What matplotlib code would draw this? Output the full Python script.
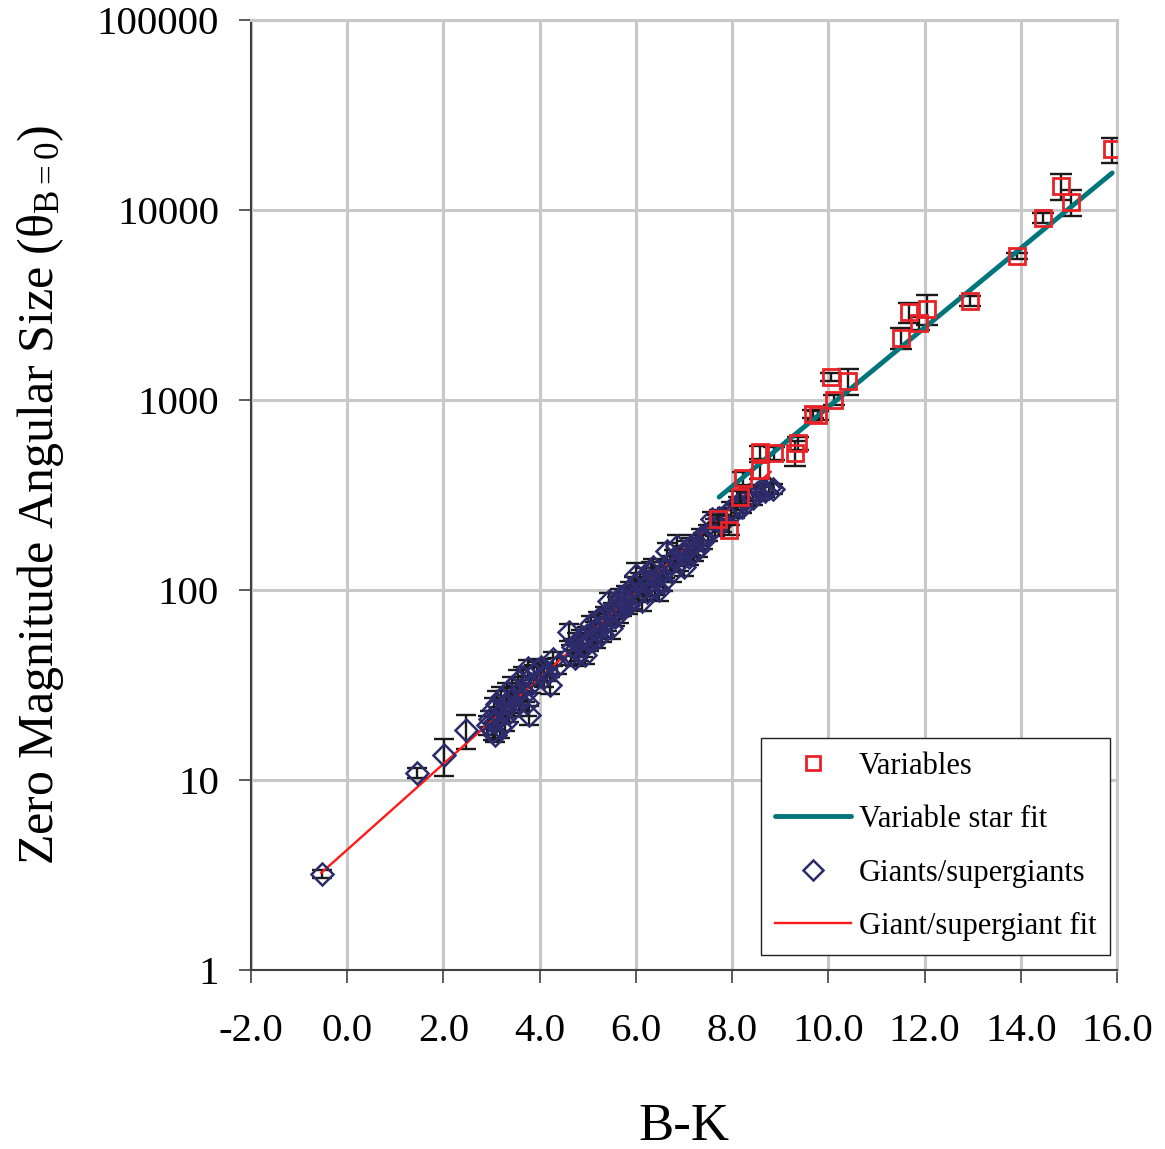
import numpy as np
import matplotlib
matplotlib.use("Agg")
import matplotlib.pyplot as plt

plt.rcParams['font.family'] = ['Liberation Serif', 'DejaVu Serif']
plt.rcParams['mathtext.fontset'] = 'custom'
plt.rcParams['mathtext.rm'] = 'Liberation Serif'
plt.rcParams['mathtext.it'] = 'Liberation Serif:italic'

# Giants / supergiants: B-K colour, zero magnitude angular size, fractional error
giant_bk = [-0.52, 1.45, 2.02, 2.47,
            2.92, 2.97, 3.02, 3.05, 3.08, 3.10, 3.12, 3.15, 3.18, 3.20,
            3.24, 3.27, 3.30, 3.33, 3.36, 3.40, 3.43, 3.46, 3.50, 3.54,
            3.58, 3.62, 3.66, 3.70, 3.74, 3.76, 3.78, 3.82, 3.88, 3.95,
            4.02, 4.08, 4.15, 4.22, 4.28, 4.35,
            4.60, 4.65, 4.70, 4.74, 4.78, 4.82, 4.86, 4.90, 4.94, 4.98,
            5.02, 5.06, 5.10, 5.14, 5.18, 5.22, 5.26, 5.30, 5.35, 5.40,
            5.45, 5.48, 5.52, 5.56, 5.60, 5.64, 5.68, 5.72, 5.76, 5.80,
            5.84, 5.88, 5.92, 5.96, 6.00, 6.04, 6.08, 6.12, 6.16, 6.20,
            6.24, 6.28, 6.32, 6.36, 6.40, 6.44, 6.48, 6.52, 6.56, 6.60,
            6.65, 6.70, 6.75, 6.80, 6.85, 6.90, 6.95, 7.00, 7.05, 7.10,
            7.15, 7.20, 7.25, 7.30, 7.35, 7.40, 7.50, 7.58, 7.65, 7.72,
            7.80, 7.90, 7.98, 8.05, 8.12, 8.20, 8.28, 8.36, 8.44, 8.52,
            8.60, 8.68, 8.76, 8.85]
giant_theta = [3.2, 10.9, 13.5, 18.3,
               19.5, 21.0, 18.0, 23.5, 17.2, 20.5, 25.0, 22.0, 19.0, 27.0,
               23.0, 20.0, 25.5, 29.0, 22.5, 26.5, 31.0, 24.0, 28.0, 33.0,
               26.0, 30.0, 35.0, 28.5, 25.5, 39.0, 22.0, 32.0, 36.0, 38.0,
               39.5, 35.0, 37.0, 31.5, 43.5, 40.0,
               60.0, 46.0, 50.0, 44.0, 53.0, 47.0, 56.0, 50.5, 45.5, 58.0,
               53.0, 66.0, 57.0, 62.0, 55.0, 70.0, 64.0, 59.0, 74.0, 68.0,
               88.0, 63.0, 78.0, 72.0, 84.0, 76.0, 92.0, 81.0, 87.0, 95.0,
               83.0, 100.0, 90.0, 106.0, 120.0, 96.0, 112.0, 88.0, 103.0, 118.0,
               98.0, 110.0, 125.0, 132.0, 104.0, 115.0, 100.0, 122.0, 110.0, 128.0,
               160.0, 138.0, 125.0, 148.0, 170.0, 140.0, 155.0, 132.0, 162.0, 150.0,
               170.0, 158.0, 178.0, 165.0, 190.0, 182.0, 200.0, 235.0, 215.0, 240.0,
               225.0, 250.0, 268.0, 260.0, 285.0, 275.0, 300.0, 318.0, 305.0, 325.0,
               335.0, 330.0, 345.0, 340.0]
giant_err = [0.05, 0.06, 0.22, 0.20,
             0.12, 0.10, 0.10, 0.15, 0.08, 0.12, 0.18, 0.10, 0.12, 0.15,
             0.12, 0.10, 0.15, 0.12, 0.10, 0.15, 0.12, 0.10, 0.12, 0.15,
             0.10, 0.12, 0.12, 0.10, 0.15, 0.10, 0.12, 0.10, 0.12, 0.10,
             0.10, 0.12, 0.10, 0.10, 0.08, 0.10,
             0.10, 0.12, 0.10, 0.10, 0.12, 0.10, 0.10, 0.12, 0.10, 0.10,
             0.10, 0.10, 0.12, 0.10, 0.10, 0.10, 0.12, 0.10, 0.10, 0.10,
             0.10, 0.12, 0.10, 0.10, 0.10, 0.12, 0.10, 0.10, 0.12, 0.10,
             0.10, 0.10, 0.12, 0.10, 0.15, 0.10, 0.10, 0.12, 0.10, 0.10,
             0.10, 0.10, 0.12, 0.10, 0.10, 0.10, 0.12, 0.10, 0.10, 0.10,
             0.10, 0.10, 0.12, 0.10, 0.15, 0.10, 0.10, 0.10, 0.12, 0.10,
             0.10, 0.10, 0.10, 0.10, 0.10, 0.10, 0.10, 0.10, 0.10, 0.10,
             0.10, 0.08, 0.08, 0.08, 0.08, 0.08, 0.08, 0.08, 0.08, 0.08,
             0.06, 0.06, 0.06, 0.06]

# Variable stars
var_bk = [7.70, 7.93, 8.17, 8.23, 8.57, 8.57, 8.88, 9.31, 9.36, 9.69, 9.79,
          10.06, 10.12, 10.40, 11.52, 11.68, 11.89, 12.06, 12.95, 13.93,
          14.47, 14.84, 15.05, 15.90]
var_theta = [237, 207, 308, 388, 428, 532, 526, 526, 594, 844, 830,
             1320, 1000, 1260, 2120, 2900, 2540, 3010, 3320, 5730,
             9080, 13370, 11020, 20900]
var_err = [0.05, 0.06, 0.08, 0.08, 0.10, 0.08, 0.08, 0.15, 0.08, 0.05, 0.05,
           0.05, 0.06, 0.16, 0.13, 0.12, 0.08, 0.18, 0.06, 0.04,
           0.06, 0.16, 0.16, 0.15]

# log10(theta) = a + b * (B-K) fits, with plotted ranges
var_fit = (0.875, 0.2088)
var_fit_range = (7.73, 15.9)
giant_fit = (0.633, 0.226)
giant_fit_range = (-0.54, 8.8)

x_ticks = [-2.0, 0.0, 2.0, 4.0, 6.0, 8.0, 10.0, 12.0, 14.0, 16.0]
y_ticks = [1, 10, 100, 1000, 10000, 100000]

fig = plt.figure(figsize=(11.65, 11.49), dpi=100)
ax = fig.add_axes([251 / 1165, 1 - 970 / 1149, 866 / 1165, 950 / 1149])

navy = '#2c2c6c'
red = '#e82228'
teal = '#00767c'

gb = np.array(giant_bk)
gt = np.array(giant_theta)
ge = gt * np.array(giant_err)
ax.errorbar(gb, gt, yerr=ge, fmt='none', ecolor='#1a1a1a', elinewidth=1.7,
            capsize=7, capthick=1.7, zorder=3)

xg = np.linspace(*giant_fit_range, 50)
ax.plot(xg, 10 ** (giant_fit[0] + giant_fit[1] * xg), color='#ff1a1a', lw=1.7,
        zorder=4, label='Giant/supergiant fit')

ax.plot(gb, gt, linestyle='none', marker='D', markersize=11.5, markerfacecolor='none',
        markeredgecolor=navy, markeredgewidth=1.8, zorder=5, label='Giants/supergiants')

vb = np.array(var_bk)
vt = np.array(var_theta)
ve = vt * np.array(var_err)
ax.errorbar(vb, vt, yerr=ve, fmt='none', ecolor='#1a1a1a', elinewidth=1.7,
            capsize=8, capthick=1.7, zorder=6)

xv = np.linspace(*var_fit_range, 50)
ax.plot(xv, 10 ** (var_fit[0] + var_fit[1] * xv), color=teal, lw=3.5,
        solid_capstyle='round', zorder=6.5, label='Variable star fit')

ax.plot(vb, vt, linestyle='none', marker='s', markersize=12, markerfacecolor='none',
        markeredgecolor=red, markeredgewidth=2.0, zorder=7, label='Variables')

ax.set_yscale('log')
ax.set_xlim(-2, 16)
ax.set_ylim(1, 100000)
ax.set_xticks(x_ticks)
ax.set_xticklabels([f'{t:.1f}' for t in x_ticks])
ax.set_yticks(y_ticks)
ax.set_yticklabels([str(t) for t in y_ticks])
ax.yaxis.set_minor_locator(matplotlib.ticker.NullLocator())

ax.grid(True, color='#c8c8c8', lw=2.2)
ax.set_axisbelow(True)
for s in ['top', 'right']:
    ax.spines[s].set_color('#c8c8c8')
    ax.spines[s].set_linewidth(2.2)
for s in ['left', 'bottom']:
    ax.spines[s].set_color('#404040')
    ax.spines[s].set_linewidth(1.5)

ax.tick_params(axis='both', direction='out', length=9, width=1.2, color='#404040',
               labelsize=29.5)
ax.tick_params(axis='x', pad=22)
ax.tick_params(axis='y', pad=14)

ax.set_xlabel('B-K', fontsize=38, labelpad=38)
ax.set_ylabel(r'Zero Magnitude Angular Size (θ$_{\mathrm{B{=}0}}$)', fontsize=36, labelpad=22)

handles, labels = ax.get_legend_handles_labels()
order = ['Variables', 'Variable star fit', 'Giants/supergiants', 'Giant/supergiant fit']
hmap = dict(zip(labels, handles))
leg = ax.legend([hmap[k] for k in order], order, loc='lower right',
                bbox_to_anchor=(0.992, 0.016), fontsize=22, frameon=True,
                fancybox=False, edgecolor='#202020', framealpha=1,
                borderaxespad=0, handlelength=2.5, handletextpad=0.25,
                labelspacing=0.8, borderpad=0.45, markerscale=0.85)
leg.get_frame().set_linewidth(1.0)
leg.set_zorder(10)

fig.savefig('out.png', dpi=100)
